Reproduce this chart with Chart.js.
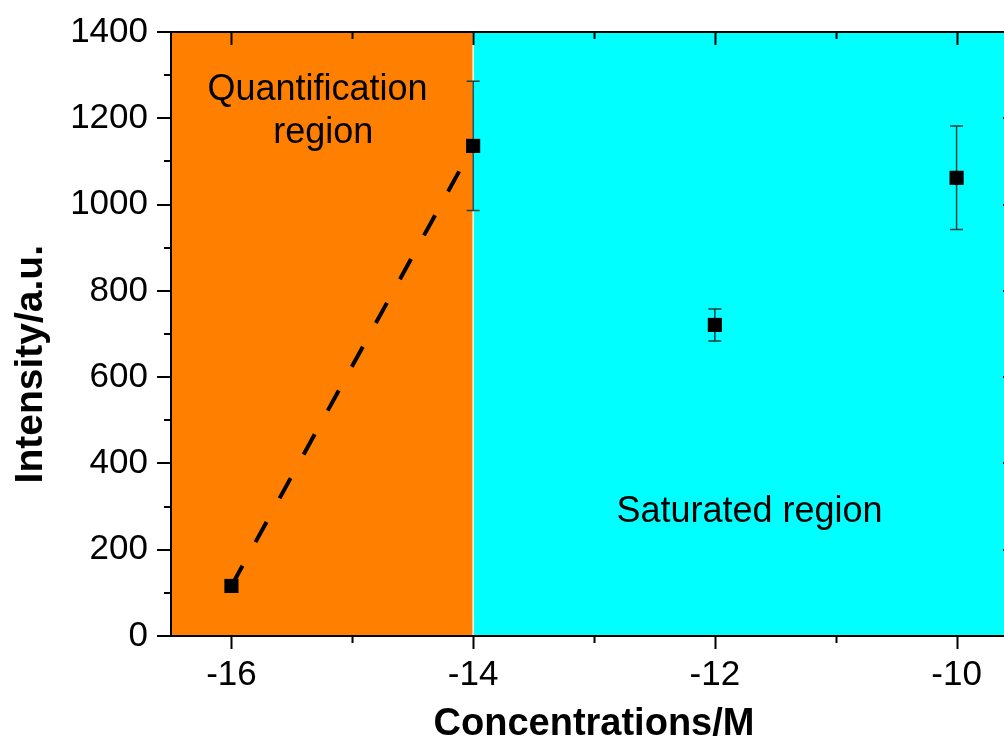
<!DOCTYPE html>
<html><head><meta charset="utf-8">
<script src="https://cdn.jsdelivr.net/npm/chart.js@4.4.1/dist/chart.umd.min.js"></script>
<style>html,body{margin:0;padding:0;overflow:hidden;background:#fff;width:1004px;height:740px}canvas{display:block}</style>
</head><body>
<canvas id="c" width="1027" height="740" style="width:1027px;height:740px"></canvas>
<script>
// ---- data ----
const concentrations = [-16, -14, -12, -10];
const intensity = [116, 1136, 721, 1062];
const errorBars = [0, 150, 37, 120];
const fitX = [-16, -14];
const fitY = [116, 1136];
const xMajorTicks = [-16, -14, -12, -10];
const xMinorTicks = [-15, -13, -11];
const yMajorTicks = [0, 200, 400, 600, 800, 1000, 1200, 1400];
const yMinorTicks = [100, 300, 500, 700, 900, 1100, 1300];
const regionStarts = [-16.5, -14];
const regionEnds = [-14, -9.5];
const regionNames = [['Quantification', 'region'], ['Saturated region']];
const xTitle = 'Concentrations/M';
const yTitle = 'Intensity/a.u.';

const FONT = '"Liberation Sans", Arial, sans-serif';
const regionColors = ['#FF8000', '#00FFFF'];
// label anchor points in data coordinates
const labelAnchors = [
  [{x: -15.288, y: 1242}, {x: -15.24, y: 1143}],
  [{x: -11.713, y: 264}]
];

const decor = {
  id: 'decor',
  beforeDatasetsDraw(chart) {
    const {ctx, chartArea: a, scales: {x, y}} = chart;
    ctx.save();
    regionStarts.forEach((s, i) => {
      const x0 = x.getPixelForValue(s), x1 = x.getPixelForValue(regionEnds[i]);
      ctx.fillStyle = regionColors[i];
      ctx.fillRect(x0, a.top, x1 - x0, a.bottom - a.top);
    });
    const xb = x.getPixelForValue(regionEnds[0]);
    ctx.strokeStyle = '#fff1e0';
    ctx.lineWidth = 1.5;
    ctx.beginPath(); ctx.moveTo(xb, a.top); ctx.lineTo(xb, a.bottom); ctx.stroke();
    ctx.fillStyle = '#000';
    ctx.font = '36px ' + FONT;
    ctx.textAlign = 'center';
    ctx.textBaseline = 'alphabetic';
    regionNames.forEach((lines, i) => {
      lines.forEach((t, j) => {
        const p = labelAnchors[i][j];
        ctx.fillText(t, x.getPixelForValue(p.x), y.getPixelForValue(p.y));
      });
    });
    ctx.strokeStyle = '#1e3c3c';
    ctx.lineWidth = 1.5;
    concentrations.forEach((c, i) => {
      const e = errorBars[i];
      if (!e) return;
      const px = x.getPixelForValue(c);
      const yt = y.getPixelForValue(intensity[i] + e);
      const yb = y.getPixelForValue(intensity[i] - e);
      ctx.beginPath();
      ctx.moveTo(px, yt); ctx.lineTo(px, yb);
      ctx.moveTo(px - 6.5, yt); ctx.lineTo(px + 6.5, yt);
      ctx.moveTo(px - 6.5, yb); ctx.lineTo(px + 6.5, yb);
      ctx.stroke();
    });
    ctx.restore();
  },
  afterDraw(chart) {
    const {ctx, chartArea: a, scales: {x, y}} = chart;
    ctx.save();
    ctx.strokeStyle = '#000';
    ctx.lineWidth = 2;
    ctx.lineCap = 'butt';
    ctx.beginPath();
    ctx.moveTo(a.left, a.top); ctx.lineTo(a.right, a.top);
    ctx.moveTo(a.left, a.bottom); ctx.lineTo(a.right, a.bottom);
    ctx.moveTo(a.left, a.top - 1); ctx.lineTo(a.left, a.bottom + 1);
    ctx.moveTo(a.right, a.top - 1); ctx.lineTo(a.right, a.bottom + 1);
    ctx.stroke();
    const tickX = (v, len) => {
      const px = Math.round(x.getPixelForValue(v)) + 0.5;
      ctx.moveTo(px, a.bottom); ctx.lineTo(px, a.bottom + len);
      ctx.moveTo(px, a.top); ctx.lineTo(px, a.top + len);
    };
    const tickY = (v, len) => {
      const py = Math.round(y.getPixelForValue(v));
      ctx.moveTo(a.left, py); ctx.lineTo(a.left - len, py);
      ctx.moveTo(a.right, py); ctx.lineTo(a.right - len, py);
    };
    ctx.beginPath();
    xMajorTicks.forEach(v => tickX(v, 13));
    xMinorTicks.forEach(v => tickX(v, 7));
    yMajorTicks.forEach(v => tickY(v, 14));
    yMinorTicks.forEach(v => tickY(v, 7));
    ctx.stroke();
    ctx.fillStyle = '#000';
    ctx.font = 'bold 39px ' + FONT;
    ctx.textAlign = 'center';
    ctx.textBaseline = 'alphabetic';
    ctx.translate(42, y.getPixelForValue(630));
    ctx.rotate(-Math.PI / 2);
    ctx.fillText(yTitle, 0, 0);
    ctx.restore();
  }
};

new Chart(document.getElementById('c'), {
  type: 'scatter',
  data: {
    datasets: [
      {
        label: 'fit',
        type: 'line',
        data: fitX.map((v, i) => ({x: v, y: fitY[i]})),
        borderColor: '#000',
        borderWidth: 4,
        borderDash: [23, 27],
        borderCapStyle: 'butt',
        pointRadius: 0,
        fill: false,
        order: 2
      },
      {
        label: 'Intensity',
        data: concentrations.map((v, i) => ({x: v, y: intensity[i]})),
        pointStyle: 'rect',
        pointRadius: 10,
        pointHoverRadius: 10,
        backgroundColor: '#000',
        borderColor: '#000',
        borderWidth: 0,
        order: 1
      }
    ]
  },
  options: {
    responsive: false,
    animation: false,
    events: [],
    layout: {padding: {top: 32, right: 3, left: 0, bottom: 0}},
    plugins: {legend: {display: false}, tooltip: {enabled: false}},
    scales: {
      x: {
        type: 'linear',
        min: -16.5,
        max: -9.5,
        afterBuildTicks: s => { s.ticks = xMajorTicks.map(v => ({value: v})); },
        afterFit: s => { s.height = 104; s.paddingLeft = 0; s.paddingRight = 0; },
        grid: {display: false, drawTicks: false},
        border: {display: false},
        ticks: {
          font: {family: FONT, size: 35},
          color: '#000',
          padding: 18,
          autoSkip: false,
          maxRotation: 0,
          callback: v => String(v)
        },
        title: {
          display: true,
          text: xTitle,
          color: '#000',
          font: {family: FONT, size: 38, weight: 'bold', lineHeight: 0.8},
          padding: {top: 0, bottom: 0}
        }
      },
      y: {
        type: 'linear',
        min: 0,
        max: 1400,
        afterBuildTicks: s => { s.ticks = yMajorTicks.map(v => ({value: v})); },
        afterFit: s => { s.width = 171; s.paddingTop = 0; s.paddingBottom = 0; },
        grid: {display: false, drawTicks: false},
        border: {display: false},
        ticks: {
          font: {family: FONT, size: 35},
          color: '#000',
          padding: 23,
          autoSkip: false,
          callback: v => String(v)
        }
      }
    }
  },
  plugins: [decor]
});
</script>
</body></html>
